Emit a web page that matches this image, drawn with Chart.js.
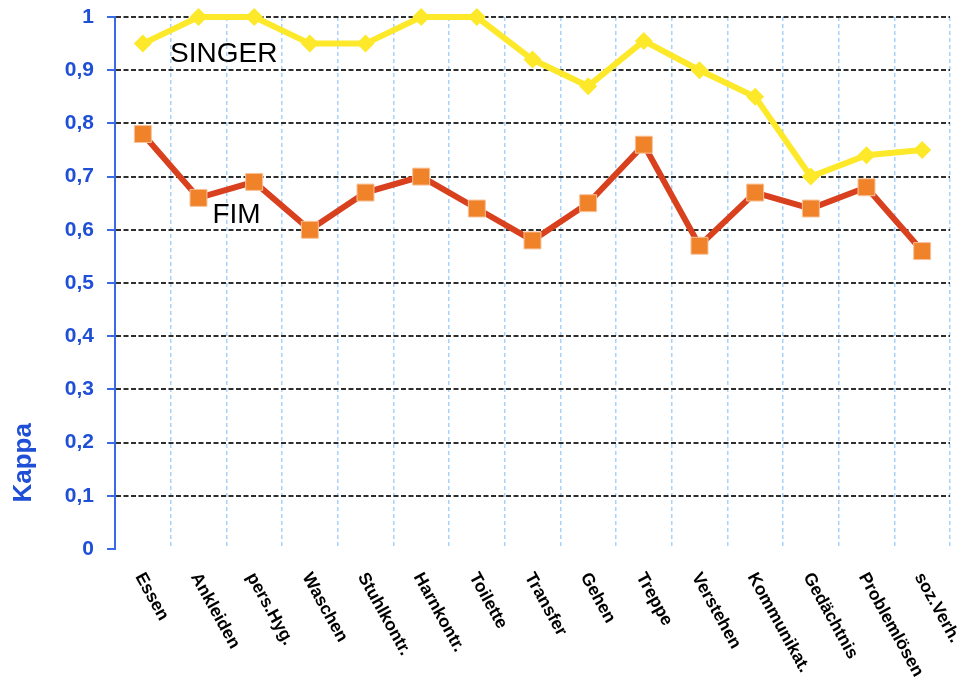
<!DOCTYPE html>
<html>
<head>
<meta charset="utf-8">
<script src="https://cdn.jsdelivr.net/npm/chart.js@4/dist/chart.umd.min.js"></script>
<style>
  html, body { margin: 0; padding: 0; background: #fff; }
  #wrap { width: 967px; height: 679px; }
</style>
</head>
<body>
<div id="wrap"><canvas id="chart-kappa"></canvas></div>
<script>
const categories = ['Essen', 'Ankleiden', 'pers.Hyg.', 'Waschen', 'Stuhlkontr.', 'Harnkontr.', 'Toilette',
    'Transfer', 'Gehen', 'Treppe', 'Verstehen', 'Kommunikat.', 'Gedächtnis', 'Problemlösen', 'soz.Verh.'];
const singerValues = [0.95, 1, 1, 0.95, 0.95, 1, 1, 0.92, 0.87, 0.955, 0.90, 0.85, 0.70, 0.74, 0.75];
const fimValues = [0.78, 0.66, 0.69, 0.60, 0.67, 0.70, 0.64, 0.58, 0.65, 0.76, 0.57, 0.67, 0.64, 0.68, 0.56];
const yTicks = [0, 0.1, 0.2, 0.3, 0.4, 0.5, 0.6, 0.7, 0.8, 0.9, 1];

const blue = '#1f4fd6';
const font = '"Liberation Sans", Arial, sans-serif';

// x labels are rotated clockwise, which chart.js can't do with start alignment
const textPlugin = {
    id: 'textPlugin',
    afterDraw(chart) {
        const {ctx, scales: {x, y}} = chart;
        ctx.save();
        ctx.fillStyle = '#000';
        ctx.font = 'bold 17.5px ' + font;
        ctx.textAlign = 'left';
        ctx.textBaseline = 'top';
        categories.forEach((c, i) => {
            ctx.save();
            ctx.translate(x.getPixelForValue(i) + 4, y.bottom + 21);
            ctx.rotate(61 * Math.PI / 180);
            ctx.fillText(c, 0, 0);
            ctx.restore();
        });

        ctx.font = '28px ' + font;
        ctx.textBaseline = 'alphabetic';
        ctx.fillText('SINGER', x.getPixelForValue(0.49), y.getPixelForValue(0.916));
        ctx.fillText('FIM', x.getPixelForValue(1.25), y.getPixelForValue(0.613));

        ctx.fillStyle = blue;
        ctx.font = 'bold 26px ' + font;
        ctx.textAlign = 'center';
        ctx.textBaseline = 'middle';
        ctx.translate(24, y.getPixelForValue(0.162));
        ctx.rotate(-Math.PI / 2);
        ctx.fillText('Kappa', 0, 0);
        ctx.restore();
    },
};

new Chart(document.getElementById('chart-kappa'), {
    type: 'line',
    data: {
        labels: categories,
        datasets: [{
            label: 'SINGER',
            data: singerValues,
            borderColor: '#fde82a',
            backgroundColor: '#fde82a',
            borderWidth: 6,
            pointStyle: 'rectRot',
            pointRadius: 9,
            pointHoverRadius: 9,
            pointBorderWidth: 0,
            clip: false,
        }, {
            label: 'FIM',
            data: fimValues,
            borderColor: '#d8401e',
            backgroundColor: '#f0822a',
            pointBorderColor: '#f7c39a',
            borderWidth: 6,
            pointStyle: 'rect',
            pointRadius: 12,
            pointHoverRadius: 12,
            pointBorderWidth: 1,
            clip: false,
        }],
    },
    options: {
        responsive: true,
        maintainAspectRatio: false,
        animation: false,
        layout: {
            padding: {top: 17, right: 17, bottom: 0, left: 0},
        },
        plugins: {
            legend: {display: false},
            tooltip: {enabled: false},
        },
        scales: {
            x: {
                offset: true,
                afterFit: (s) => { s.height = 130; },
                ticks: {display: false},
                grid: {
                    offset: true,
                    color: '#a8d2f8',
                    lineWidth: 1.5,
                    drawTicks: false,
                },
                border: {display: false, dash: [4, 3]},
            },
            y: {
                min: 0,
                max: 1,
                afterFit: (s) => {
                    s.width = 115;
                    s.paddingTop = 0;
                    s.paddingBottom = 0;
                },
                afterBuildTicks: (s) => { s.ticks = yTicks.map(v => ({value: v})); },
                ticks: {
                    color: blue,
                    padding: 13,
                    font: {family: font, size: 21, weight: 'bold'},
                    callback: (v) => String(v).replace('.', ','),
                },
                grid: {
                    color: (c) => c.tick && c.tick.value === 0 ? 'rgba(0,0,0,0)' : '#2e2e2e',
                    lineWidth: 2,
                    tickColor: '#3b6ae6',
                    tickLength: 8,
                    tickWidth: 2,
                },
                border: {display: true, color: '#3b6ae6', width: 2, dash: [5, 2.5]},
            },
        },
    },
    plugins: [textPlugin],
});
</script>
</body>
</html>
